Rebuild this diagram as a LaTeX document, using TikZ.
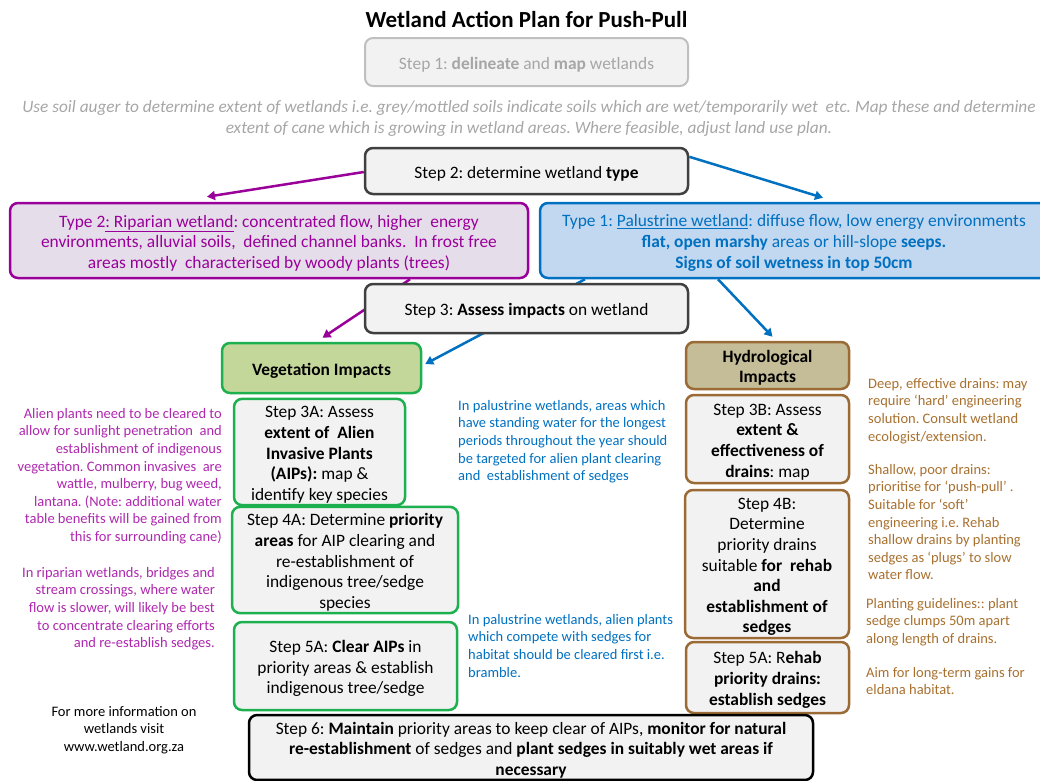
\documentclass[tikz,border=0pt]{standalone}
\usepackage{fontspec}
\setmainfont{Carlito}
\usetikzlibrary{arrows.meta,backgrounds,calc}
\frenchspacing
\definecolor{boxfill}{HTML}{F2F2F2}
\definecolor{lgrey}{HTML}{A6A6A6}
\definecolor{lborder}{HTML}{BFBFBF}
\definecolor{dgrey}{HTML}{404040}
\definecolor{purp}{HTML}{990099}
\definecolor{purptext}{HTML}{AE28AE}
\definecolor{purpfill}{HTML}{E6DDEB}
\definecolor{bluec}{HTML}{0070C0}
\definecolor{bluefill}{HTML}{C2D7F0}
\definecolor{greenc}{HTML}{1DB04F}
\definecolor{vegfill}{HTML}{C4D79B}
\definecolor{brownc}{HTML}{9C6A34}
\definecolor{browntext}{HTML}{A8702F}
\definecolor{hydfill}{HTML}{C4BD97}
\newcommand\boxfs{\fontsize{17.4}{20.6}\selectfont}
\newcommand\smallfs{\fontsize{14.5}{17.6}\selectfont}
\newcommand\topstrut{\rule{0pt}{17pt}}
\begin{document}
\frenchspacing
\begin{tikzpicture}[x=1pt,y=-1pt,
  stepbox/.style={draw=dgrey, fill=boxfill, rounded corners=8pt, line width=2.5pt,
    align=center, inner sep=2pt, font=\boxfs},
  greenbox/.style={stepbox, draw=greenc},
  brownbox/.style={stepbox, draw=brownc},
  note/.style={inner sep=0pt, font=\smallfs},
  arr/.style={line width=2.5pt, -{Triangle[width=9pt,length=8pt]}}
]
\useasboundingbox (0,0) rectangle (1040,780);

\node[font=\bfseries\fontsize{23}{26}\selectfont] (title) at (526.5,19) {Wetland Action Plan for Push-Pull};

\node[stepbox, draw=lborder, line width=2pt, text=lgrey, minimum width=323pt, minimum height=48pt] (s1) at (526.5,62)
  {\topstrut Step 1: \textbf{delineate} and \textbf{map} wetlands};

\node[align=center, text=lgrey, font=\itshape\fontsize{17.3}{21}\selectfont, inner sep=0pt] (intro) at (529,118)
  {Use soil auger to determine extent of wetlands i.e. grey/mottled soils indicate soils which are wet/temporarily wet\ \ etc. Map these and determine\\
   extent of cane which is growing in wetland areas. Where feasible, adjust land use plan.};

\node[stepbox, minimum width=323pt, minimum height=46pt] (s2) at (526.5,171)
  {\topstrut Step 2: determine wetland \textbf{type}};

\node[stepbox, draw=purp, fill=purpfill, text=purp, minimum width=518pt, minimum height=75pt] (t2) at (269,240.5)
  {\topstrut Type 2\underline{: Riparian wetland}: concentrated flow, higher\ \ energy\\
   environments, alluvial soils,\ \ defined channel banks.\ \ In frost free\\
   areas mostly\ \ characterised by woody plants (trees)};

\node[stepbox, draw=bluec, fill=bluefill, text=bluec, minimum width=508pt, minimum height=75pt] (t1) at (794,240.5)
  {\topstrut Type 1: \underline{Palustrine wetland}: diffuse flow, low energy environments\\
   \textbf{flat, open marshy} areas or hill-slope \textbf{seeps.}\\
   \textbf{Signs of soil wetness in top 50cm}};

\node[stepbox, minimum width=323pt, minimum height=49pt] (s3) at (526.5,308.5)
  {\topstrut Step 3: \textbf{Assess impacts} on wetland};

\node[greenbox, fill=vegfill, minimum width=199pt, minimum height=50pt, font=\boxfs\bfseries] (veg) at (321.5,368)
  {\topstrut Vegetation Impacts};

\node[greenbox, minimum width=171pt, minimum height=103pt] (s3a) at (319.5,452)
  {\topstrut Step 3A: Assess\\ \textbf{extent of\ \ Alien}\\ \textbf{Invasive Plants}\\ \textbf{(AIPs):} map \&\\ identify key species};

\node[greenbox, minimum width=226pt, minimum height=106pt] (s4a) at (345,560)
  {\topstrut Step 4A: Determine \textbf{priority}\\ \textbf{areas} for AIP clearing and\\ re-establishment of\\ indigenous tree/sedge\\ species};

\node[greenbox, minimum width=223pt, minimum height=88pt] (s5a) at (345.5,666)
  {\topstrut Step 5A: \textbf{Clear AIPs} in\\ priority areas \& establish\\ indigenous tree/sedge};

\node[brownbox, fill=hydfill, minimum width=163pt, minimum height=47pt, font=\boxfs\bfseries] (hyd) at (767.5,365.5)
  {\topstrut Hydrological\\ Impacts};

\node[brownbox, minimum width=163pt, minimum height=88pt] (s3b) at (767.5,439)
  {\topstrut Step 3B: Assess\\ \textbf{extent \&}\\ \textbf{effectiveness of}\\ \textbf{drains}: map};

\node[brownbox, minimum width=164pt, minimum height=148pt] (s4b) at (767,564)
  {\topstrut Step 4B:\\ Determine\\ priority drains\\ suitable \textbf{for\ \ rehab}\\ \textbf{and}\\ \textbf{establishment of}\\ \textbf{sedges}};

\node[brownbox, minimum width=163pt, minimum height=71pt] (s5b) at (767.5,677.5)
  {\topstrut Step 5A: R\textbf{ehab}\\ \textbf{priority drains:}\\ \textbf{establish sedges}};

\node[stepbox, draw=black, minimum width=564pt, minimum height=61pt] (s6) at (531,747.5)
  {\topstrut Step 6: \textbf{Maintain} priority areas to keep clear of AIPs, \textbf{monitor for natural}\\
   \textbf{re-establishment} of sedges and \textbf{plant sedges in suitably wet areas if}\\
   \textbf{necessary}};

% side notes
\node[note, text=purptext, align=right, anchor=north east] (n1) at (222,408)
  {Alien plants need to be cleared to\\ allow for sunlight penetration\ \ and\\ establishment of indigenous\\
   vegetation. Common invasives\ \ are\\ wattle, mulberry, bug weed,\\ lantana. (Note: additional water\\
   table benefits will be gained from\\ this for surrounding cane)};
\node[note, text=purptext, align=right, anchor=north east] (n2) at (215,567)
  {In riparian wetlands, bridges and\\ stream crossings, where water\\ flow is slower, will likely be best\\
   to concentrate clearing efforts\\ and re-establish sedges.};
\node[note, text=bluec, align=left, anchor=north west] (n3) at (458,400)
  {In palustrine wetlands, areas which\\ have standing water for the longest\\ periods throughout the year should\\
   be targeted for alien plant clearing\\ and\ \ establishment of sedges};
\node[note, text=bluec, align=left, anchor=north west] (n4) at (468,614)
  {In palustrine wetlands, alien plants\\ which compete with sedges for\\ habitat should be cleared first i.e.\\ bramble.};
\node[note, text=browntext, align=left, anchor=north west] (n5) at (868,378)
  {Deep, effective drains: may\\ require ‘hard’ engineering\\ solution. Consult wetland\\ ecologist/extension.};
\node[note, text=browntext, align=left, anchor=north west] (n6) at (868,464)
  {Shallow, poor drains:\\ prioritise for ‘push-pull’ .\\ Suitable for ‘soft’\\ engineering i.e. Rehab\\
   shallow drains by planting\\ sedges as ‘plugs’ to slow\\ water flow.};
\node[note, text=browntext, align=left, anchor=north west] (n7) at (866,598)
  {Planting guidelines:: plant\\ sedge clumps 50m apart\\ along length of drains.};
\node[note, text=browntext, align=left, anchor=north west] (n8) at (866,667)
  {Aim for long-term gains for\\ eldana habitat.};
\node[note, align=center, anchor=north] (n9) at (124,706)
  {For more information on\\ wetlands visit\\ www.wetland.org.za};

% connectors
\coordinate (tipT2) at ($(t2.north)+(-62,-5)$);
\coordinate (tipT1) at ($(t1.north)+(29,-4)$);
\coordinate (srcS2L) at ($(s2.west)+(0,1)$);
\coordinate (srcS2R) at ($(s2.north east)+(0,10)$);
\draw[arr, purp] (srcS2L) -- (tipT2);
\draw[arr, bluec] (srcS2R) -- (tipT1);
\begin{pgfonlayer}{background}
\coordinate (srcT2) at ($(t2.south)+(141,0)$);
\coordinate (tipVeg) at ($(veg.north)+(1,-4)$);
\draw[arr, purp] (srcT2) -- (tipVeg);
\coordinate (srcT1a) at ($(t1.south)+(-209,0)$);
\coordinate (tipVegE) at ($(veg.east)+(3,-4)$);
\draw[arr, bluec] (srcT1a) -- (tipVegE);
\end{pgfonlayer}
\coordinate (srcT1b) at ($(t1.south)+(-76,0)$);
\coordinate (tipHyd) at ($(hyd.north)+(5,-4)$);
\draw[arr, bluec] (srcT1b) -- (tipHyd);
\end{tikzpicture}
\end{document}
